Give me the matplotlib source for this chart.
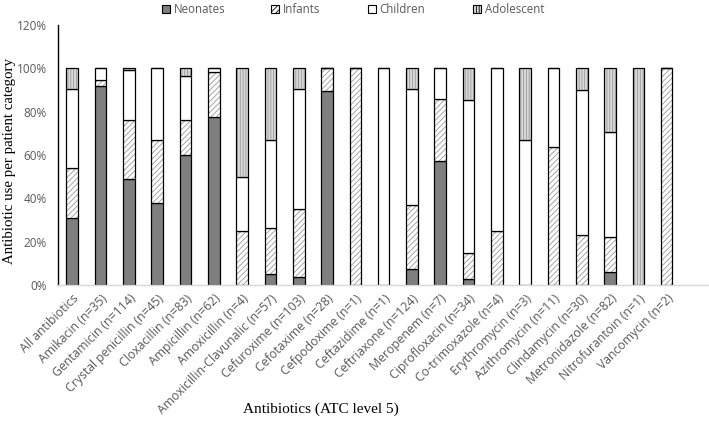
import numpy as np
import matplotlib
matplotlib.use('Agg')
import matplotlib.pyplot as plt
from matplotlib.patches import Patch

labels = ['All antibiotics', 'Amikacin (n=35)', 'Gentamicin (n=114)', 'Crystal penicillin (n=45)',
          'Cloxacillin (n=83)', 'Ampicillin (n=62)', 'Amoxicillin (n=4)', 'Amoxicillin-Clavunalic (n=57)',
          'Cefuroxime (n=103)', 'Cefotaxime (n=28)', 'Cefpodoxime (n=1)', 'Ceftazidime (n=1)',
          'Ceftriaxone (n=124)', 'Meropenem (n=7)', 'Ciprofloxacin (n=34)', 'Co-trimoxazole (n=4)',
          'Erythromycin (n=3)', 'Azithromycin (n=11)', 'Clindamycin (n=30)', 'Metronidazole (n=82)',
          'Nitrofurantoin (n=1)', 'Vancomycin (n=2)']

# percent of use per patient category
neonates   = [30.8, 91.8, 49.1, 37.8, 60.2, 77.4, 0, 5.3, 3.9, 89.3, 0, 0, 7.3, 57.1, 2.9, 0, 0, 0, 0, 6.1, 0, 0]
infants    = [23.0, 2.7, 27.2, 28.9, 15.7, 21.0, 25.0, 21.1, 31.1, 10.7, 100, 0, 29.8, 28.6, 11.8, 25.0, 0, 63.6, 23.3, 15.9, 0, 100]
children   = [36.5, 5.5, 22.8, 33.3, 20.5, 1.6, 25.0, 40.4, 55.3, 0, 0, 100, 53.2, 14.3, 70.6, 75.0, 66.7, 36.4, 66.7, 48.8, 0, 0]
adolescent = [9.7, 0, 0.9, 0, 3.6, 0, 50.0, 33.3, 9.7, 0, 0, 0, 9.7, 0, 14.7, 0, 33.3, 0, 10.0, 29.2, 100, 0]

series = [('Neonates', neonates, '#7f7f7f', ''),
          ('Infants', infants, 'white', '//////'),
          ('Children', children, 'white', ''),
          ('Adolescent', adolescent, '#d9d9d9', '||||||')]

plt.rcParams['hatch.linewidth'] = 0.6
plt.rcParams['hatch.color'] = '#999999'

fig = plt.figure(figsize=(7.09, 4.28), dpi=100)
ax = fig.add_axes([0.082, 0.334, 0.917, 0.608])

x = np.arange(len(labels))
w = 0.41
bottom = np.zeros(len(labels))
handles = []
for name, vals, fc, hatch in series:
    v = np.array(vals) / 100.0
    # hatch pass in gray, then outline pass in black
    ax.bar(x, v, w, bottom=bottom, color=fc, edgecolor='#999999', hatch=hatch, linewidth=0)
    ax.bar(x, v, w, bottom=bottom, color='none', edgecolor='black', linewidth=0.9)
    bottom += v
    handles.append(Patch(facecolor=fc, edgecolor='black', hatch=hatch, linewidth=0.8, label=name))

ax.set_ylim(0, 1.2)
ax.set_xlim(-0.5, 22.47)
ax.set_yticks(np.arange(0, 1.21, 0.2))
ax.set_yticklabels(['%d%%' % v for v in range(0, 121, 20)], fontsize=8.5, color='#595959', family='Open Sans')
ax.set_xticks(x)
ax.set_xticklabels(labels, rotation=45, ha='right', rotation_mode='anchor', fontsize=8.8,
                   color='#595959', family='Open Sans')
ax.tick_params(axis='both', length=0)
ax.tick_params(axis='y', pad=8)
ax.tick_params(axis='x', pad=5)
ax.spines['top'].set_visible(False)
ax.spines['right'].set_visible(False)
ax.spines['left'].set_color('black')
ax.spines['left'].set_linewidth(1)
ax.spines['bottom'].set_color('#d9d9d9')
ax.spines['bottom'].set_linewidth(1)

fig.text(0.013, 0.625, 'Antibiotic use per patient category', family='Liberation Serif', fontsize=10.7,
         rotation=90, ha='center', va='center')
fig.text(0.453, 0.035, 'Antibiotics (ATC level 5)', family='Liberation Serif', fontsize=11, ha='center')

# one legend entry per slot, spaced like the original
legend_x = [162, 271, 368, 473]
for h, lx in zip(handles, legend_x):
    leg = fig.legend(handles=[h], loc='upper left', bbox_to_anchor=(lx / 709, 0.993), frameon=False,
                     borderpad=0, borderaxespad=0, handlelength=0.7, handleheight=0.7, handletextpad=0.3,
                     prop={'family': 'Open Sans', 'size': 8.3})
    leg.get_texts()[0].set_color('#595959')

fig.savefig('out.png', dpi=100)
